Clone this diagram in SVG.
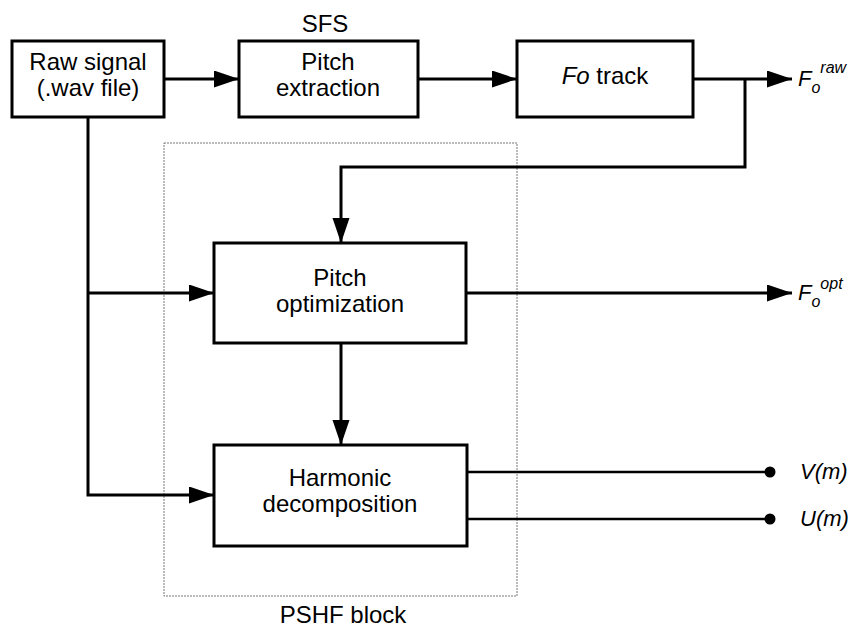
<svg xmlns="http://www.w3.org/2000/svg" width="853" height="630" viewBox="0 0 853 630">
<style>
.box{fill:#fff;stroke:#000;stroke-width:3}
.t{font-family:"Liberation Sans",Arial,sans-serif;font-size:24px;fill:#000;text-anchor:middle}
.lab{font-family:"Liberation Sans",Arial,sans-serif;font-style:italic;fill:#000}
.c{fill:none;stroke:#000;stroke-width:3}
.o{fill:none;stroke:#000;stroke-width:2.5}
</style>
<defs>
<marker id="ah" markerUnits="userSpaceOnUse" markerWidth="26" markerHeight="18" refX="25" refY="8.5" orient="auto">
<path d="M0,0 L25,8.5 L0,17 z" fill="#000"/>
</marker>
</defs>
<rect x="164" y="143" width="353" height="453" fill="none" stroke="#777" stroke-width="1" stroke-dasharray="2,1"/>
<g id="connectors">
<path class="c" d="M165,79 H239" marker-end="url(#ah)"/>
<path class="c" d="M418,79 H517" marker-end="url(#ah)"/>
<path class="c" d="M693,79 H792" marker-end="url(#ah)"/>
<path class="c" d="M745,79 V167 H341 V243" marker-end="url(#ah)"/>
<path class="c" d="M88,117 V495 H214" marker-end="url(#ah)"/>
<path class="c" d="M88,293 H214" marker-end="url(#ah)"/>
<path class="c" d="M341,343 V445" marker-end="url(#ah)"/>
<path class="c" d="M466,293 H792" marker-end="url(#ah)"/>
<path class="o" d="M467,472 H770"/>
<path class="o" d="M467,519 H770"/>
<circle cx="770" cy="472" r="5.5" fill="#000"/>
<circle cx="770" cy="519" r="5.5" fill="#000"/>
</g>
<g id="raw">
<rect class="box" x="12" y="41" width="152" height="76"/>
<text class="t" x="88" y="70">Raw signal</text>
<text class="t" x="88" y="96">(.wav file)</text>
</g>
<g id="sfs-label"><text class="t" x="325" y="32">SFS</text></g>
<g id="pitch-extraction">
<rect class="box" x="239" y="41" width="179" height="76"/>
<text class="t" x="328" y="70">Pitch</text>
<text class="t" x="328" y="96">extraction</text>
</g>
<g id="fo-track">
<rect class="box" x="517" y="41" width="176" height="76"/>
<text class="t" x="605" y="84"><tspan font-style="italic">Fo</tspan> track</text>
</g>
<g id="pitch-optimization">
<rect class="box" x="214" y="243" width="252" height="100"/>
<text class="t" x="340" y="286">Pitch</text>
<text class="t" x="340" y="312">optimization</text>
</g>
<g id="harmonic-decomposition">
<rect class="box" x="214" y="445" width="253" height="101"/>
<text class="t" x="340" y="486">Harmonic</text>
<text class="t" x="340" y="512">decomposition</text>
</g>
<g id="pshf-label"><text class="t" x="343" y="623">PSHF block</text></g>
<g id="outputs">
<text class="lab" x="798" y="86" font-size="22">F<tspan font-size="16" dy="7">o</tspan><tspan font-size="16" dy="-20">raw</tspan></text>
<text class="lab" x="798" y="300" font-size="22">F<tspan font-size="16" dy="7">o</tspan><tspan font-size="16" dy="-18">opt</tspan></text>
<text class="lab" x="800" y="479" font-size="22">V(m)</text>
<text class="lab" x="800" y="526" font-size="22">U(m)</text>
</g>
</svg>
